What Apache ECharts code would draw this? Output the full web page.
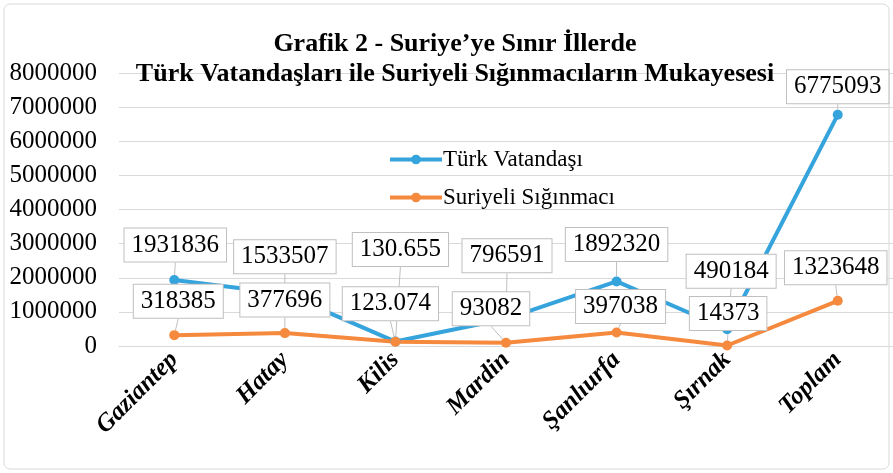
<!DOCTYPE html>
<html>
<head>
<meta charset="utf-8">
<script src="https://cdn.jsdelivr.net/npm/echarts@6/dist/echarts.min.js"></script>
<style>
  html, body { margin: 0; padding: 0; background: #fff; }
  #chart { width: 893px; height: 473px; }
</style>
</head>
<body>
<div id="chart"></div>
<script>
const categories = ['Gaziantep', 'Hatay', 'Kilis', 'Mardin', 'Şanlıurfa', 'Şırnak', 'Toplam']
const turkValues = [1931836, 1533507, 130655, 796591, 1892320, 490184, 6775093]
const suriyeValues = [318385, 377696, 123074, 93082, 397038, 14373, 1323648]
// label texts as printed in the source (Kilis uses dotted thousands)
const turkLabels = ['1931836', '1533507', '130.655', '796591', '1892320', '490184', '6775093']
const suriyeLabels = ['318385', '377696', '123.074', '93082', '397038', '14373', '1323648']

// callout offsets from each point, px
const turkOffsets = [[1, -35], [0, -37], [5, -92], [1, -63], [0, -37], [4, -58], [0, -28]]
const suriyeOffsets = [[4, -34], [0, -33], [-5, -38], [-15, -34], [4, -26], [1, -32], [-2, -33]]

const serif = '"Liberation Serif", "DejaVu Serif", serif'
const chart = echarts.init(document.getElementById('chart'))

function labelBox(texts) {
  return {
    show: true,
    position: 'inside',
    formatter: (p) => texts[p.dataIndex],
    fontFamily: serif,
    fontSize: 25,
    color: '#000',
    backgroundColor: '#fff',
    borderColor: '#bfbfbf',
    borderWidth: 1,
    padding: [5, 7, 3, 7],
  }
}

chart.setOption({
  animation: false,
  title: {
    text: 'Grafik 2 - Suriye’ye Sınır İllerde\nTürk Vatandaşları ile Suriyeli Sığınmacıların Mukayesesi',
    left: 450,
    textAlign: 'center',
    top: 24,
    textStyle: { fontFamily: serif, fontSize: 26, fontWeight: 'bold', color: '#000', lineHeight: 30 },
  },
  legend: {
    orient: 'vertical',
    left: 383,
    top: 143,
    itemWidth: 52,
    itemHeight: 12,
    itemGap: 15,
    lineStyle: { width: 4 },
    textStyle: { fontFamily: serif, fontSize: 23, color: '#000', padding: [0, 0, 0, -4] },
    data: ['Türk Vatandaşı', 'Suriyeli Sığınmacı'],
  },
  graphic: [{
    type: 'rect',
    shape: { x: 4, y: 4, width: 885, height: 465, r: 6 },
    style: { fill: 'none', stroke: '#d9d9d9', lineWidth: 1 },
    silent: true,
  }],
  grid: { left: 119, right: -2, top: 73, bottom: 127 },
  xAxis: {
    type: 'category',
    data: categories,
    axisTick: { show: false },
    axisLine: { lineStyle: { color: '#d9d9d9', width: 1 } },
    axisLabel: {
      rotate: 45,
      margin: 10,
      fontFamily: serif,
      fontSize: 25,
      fontWeight: 'bold',
      fontStyle: 'italic',
      color: '#000',
    },
  },
  yAxis: {
    type: 'value',
    min: 0,
    max: 8000000,
    interval: 1000000,
    axisLine: { show: false },
    axisTick: { show: false },
    splitLine: { lineStyle: { color: '#d9d9d9', width: 1 } },
    axisLabel: { fontFamily: serif, fontSize: 25, color: '#000', margin: 22, formatter: (v) => String(v) },
  },
  series: [
    {
      name: 'Türk Vatandaşı',
      type: 'line',
      data: turkValues,
      symbol: 'circle',
      symbolSize: 10,
      itemStyle: { color: '#35a3dc' },
      lineStyle: { color: '#35a3dc', width: 4 },
      label: labelBox(turkLabels),
      labelLine: { show: true, lineStyle: { color: '#bfbfbf', width: 1 } },
      labelLayout: (p) => ({ dx: turkOffsets[p.dataIndex][0], dy: turkOffsets[p.dataIndex][1] }),
    },
    {
      name: 'Suriyeli Sığınmacı',
      type: 'line',
      data: suriyeValues,
      symbol: 'circle',
      symbolSize: 10,
      itemStyle: { color: '#f5893d' },
      lineStyle: { color: '#f5893d', width: 4 },
      label: labelBox(suriyeLabels),
      labelLine: { show: true, lineStyle: { color: '#bfbfbf', width: 1 } },
      labelLayout: (p) => ({ dx: suriyeOffsets[p.dataIndex][0], dy: suriyeOffsets[p.dataIndex][1] }),
    },
  ],
})
</script>
</body>
</html>
